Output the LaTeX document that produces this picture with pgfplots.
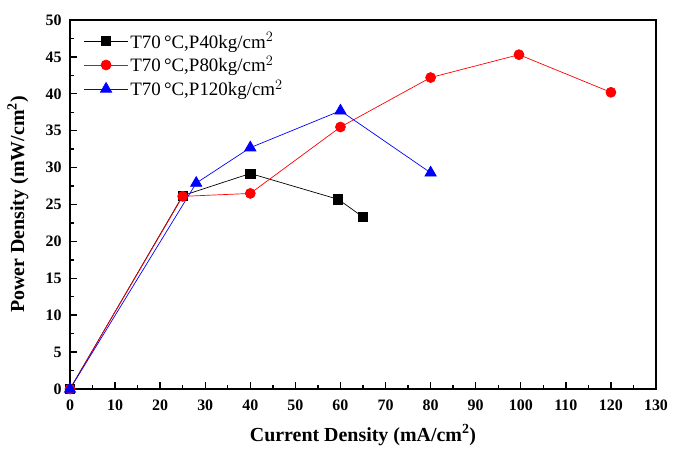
\documentclass[border=0pt]{standalone}
\usepackage{fontspec}
\setmainfont{Liberation Serif}
\usepackage{pgfplots}
\pgfplotsset{compat=1.18}
\begin{document}
\begin{tikzpicture}
\begin{axis}[
  name=a,
  scale only axis,
  width=586bp, height=369bp,
  xmin=0, xmax=130, ymin=0, ymax=50,
  xtick={0,10,...,130}, ytick={0,5,...,50},
  minor x tick num=1, minor y tick num=1,
  tick pos=left,
  tick align=inside,
  major tick length=7bp, minor tick length=4bp,
  axis line style={line width=2pt},
  every tick/.style={black, line width=1.4pt},
  /pgf/number format/assume math mode=true,
  ticklabel style={font=\fontsize{16}{18}\selectfont\bfseries},
  xticklabel style={yshift=-7bp},
  yticklabel style={xshift=-5bp},
  every axis x label/.style={at={(axis description cs:0.5,0)}, anchor=center, yshift=-46bp},
  every axis y label/.style={at={(axis description cs:0,0.5)}, rotate=90, anchor=center, yshift=52bp},
  xlabel={Current Density (mA/cm$^{\mathbf{2}}$)},
  ylabel={Power Density (mW/cm$^{\mathbf{2}}$)},
  label style={font=\fontsize{20}{22}\selectfont\bfseries},
  legend style={draw=none, fill=none, at={(axis cs:3,48.6)}, anchor=north west,
    font=\fontsize{19}{21}\selectfont, row sep=3bp, inner sep=0pt,
    every even column/.style={column sep=5bp}},
  legend cell align=left,
  legend image code/.code={%
    \draw[mark repeat=2,mark phase=2,#1] plot coordinates {(0bp,0bp)(22bp,0bp)(44bp,0bp)};},
]
\addplot[black, line width=0.7pt, mark=square*, mark size=4.6bp] coordinates {
(0,0) (25,26.2) (40,29.2) (59.5,25.7) (65,23.3)};
\addlegendentry{T70\,°C,P40kg/cm$^{2}$}
\addplot[red, line width=0.7pt, mark=*, mark size=5bp, mark options={fill=red}] coordinates {
(0,0) (25,26.1) (40,26.5) (60,35.5) (80,42.2) (99.6,45.3) (120,40.2)};
\addlegendentry{T70\,°C,P80kg/cm$^{2}$}
\addplot[blue, line width=0.7pt, mark=triangle*, mark size=6.5bp, mark options={fill=blue}] coordinates {
(0,0) (28,27.9) (40,32.7) (60,37.7) (80,29.3)};
\addlegendentry{T70\,°C,P120kg/cm$^{2}$}
\end{axis}
\path (a.south west) ++(-70bp,-71bp) coordinate (bl);
\path (a.north east) ++(22bp,20bp) coordinate (tr);
\path (bl) rectangle (tr);
\end{tikzpicture}
\end{document}
